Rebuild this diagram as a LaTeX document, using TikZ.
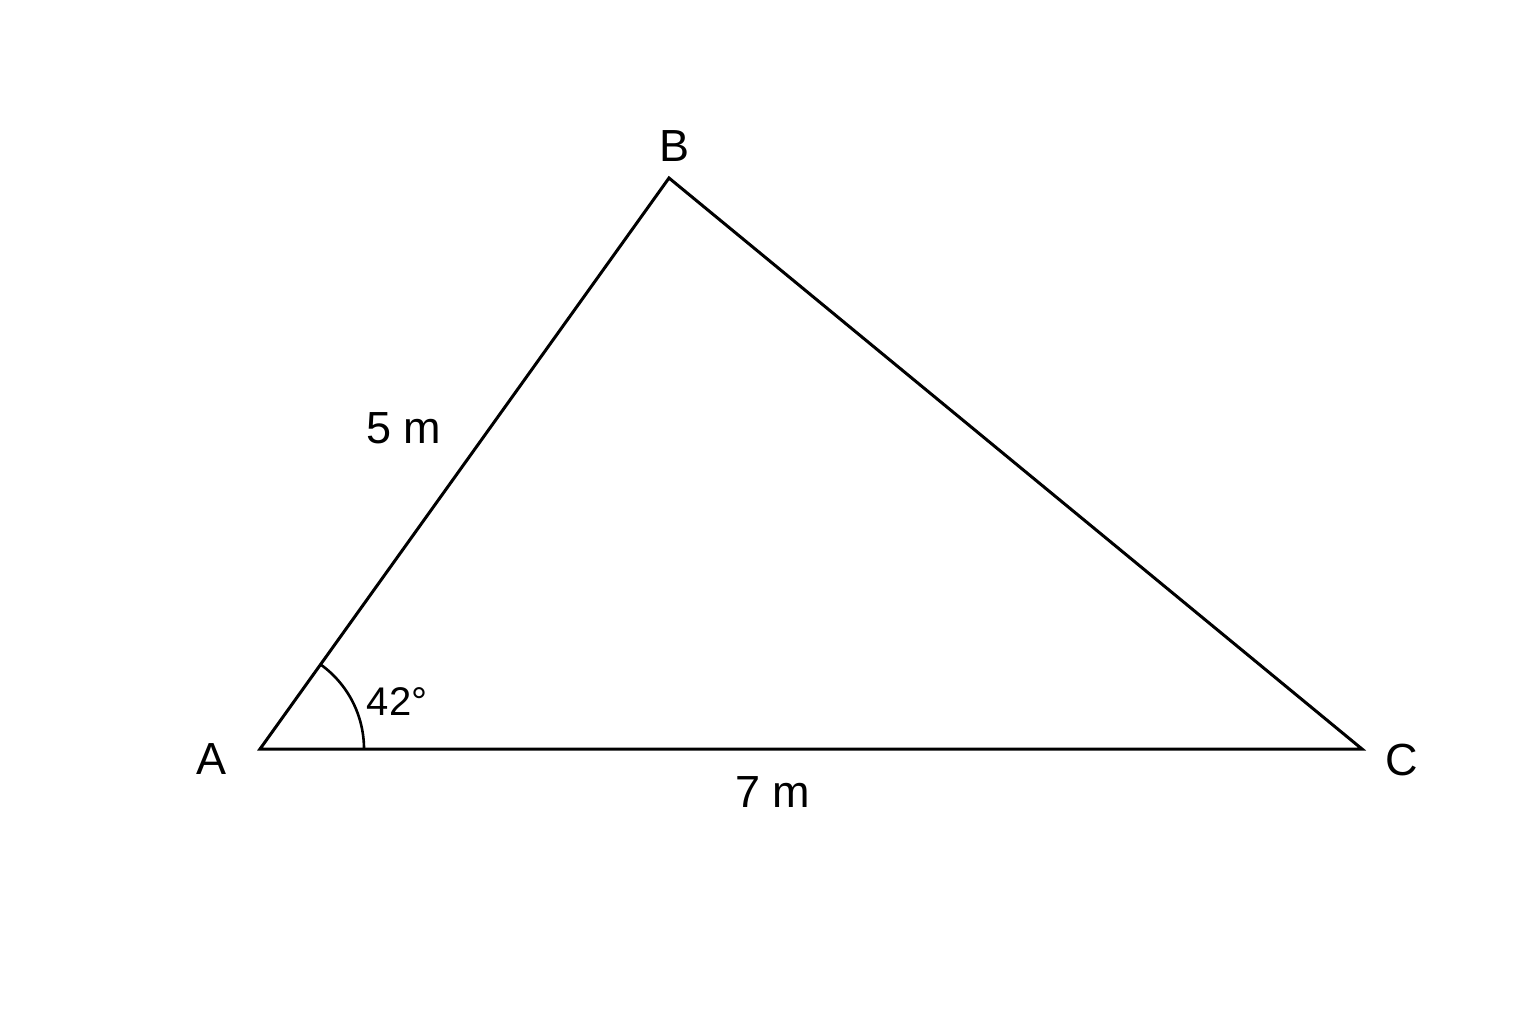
\documentclass[tikz,border=0pt]{standalone}
\usepackage{fontspec}
\setmainfont{Liberation Sans}
\begin{document}
\begin{tikzpicture}[x=0.5pt,y=-0.5pt,
  edge/.style={line width=1.5pt,line join=miter},
  lbl/.style={font=\fontsize{22.5}{26}\selectfont,inner sep=0pt},
  anglbl/.style={font=\fontsize{20}{24}\selectfont,inner sep=0pt}]
\useasboundingbox[fill=white] (0,0) rectangle (1536,1024);
\coordinate (A) at (260,749);
\coordinate (B) at (669,178);
\coordinate (C) at (1362,749);
\draw[edge] (A) -- (B) -- (C) -- cycle;
\draw[line width=1.3pt] (A) ++(104,0) arc[start angle=0,end angle=-54.4,radius=104];
\node[lbl] (lB) at (674,146) {B};
\node[lbl] (lA) at (212,759) {A};
\node[lbl] (lC) at (1402,760) {C};
\node[lbl] (lAB) at (404,428) {5 m};
\node[lbl] (lAC) at (773,792) {7 m};
\node[anglbl] (lang) at (397,702) {42°};
\end{tikzpicture}
\end{document}
